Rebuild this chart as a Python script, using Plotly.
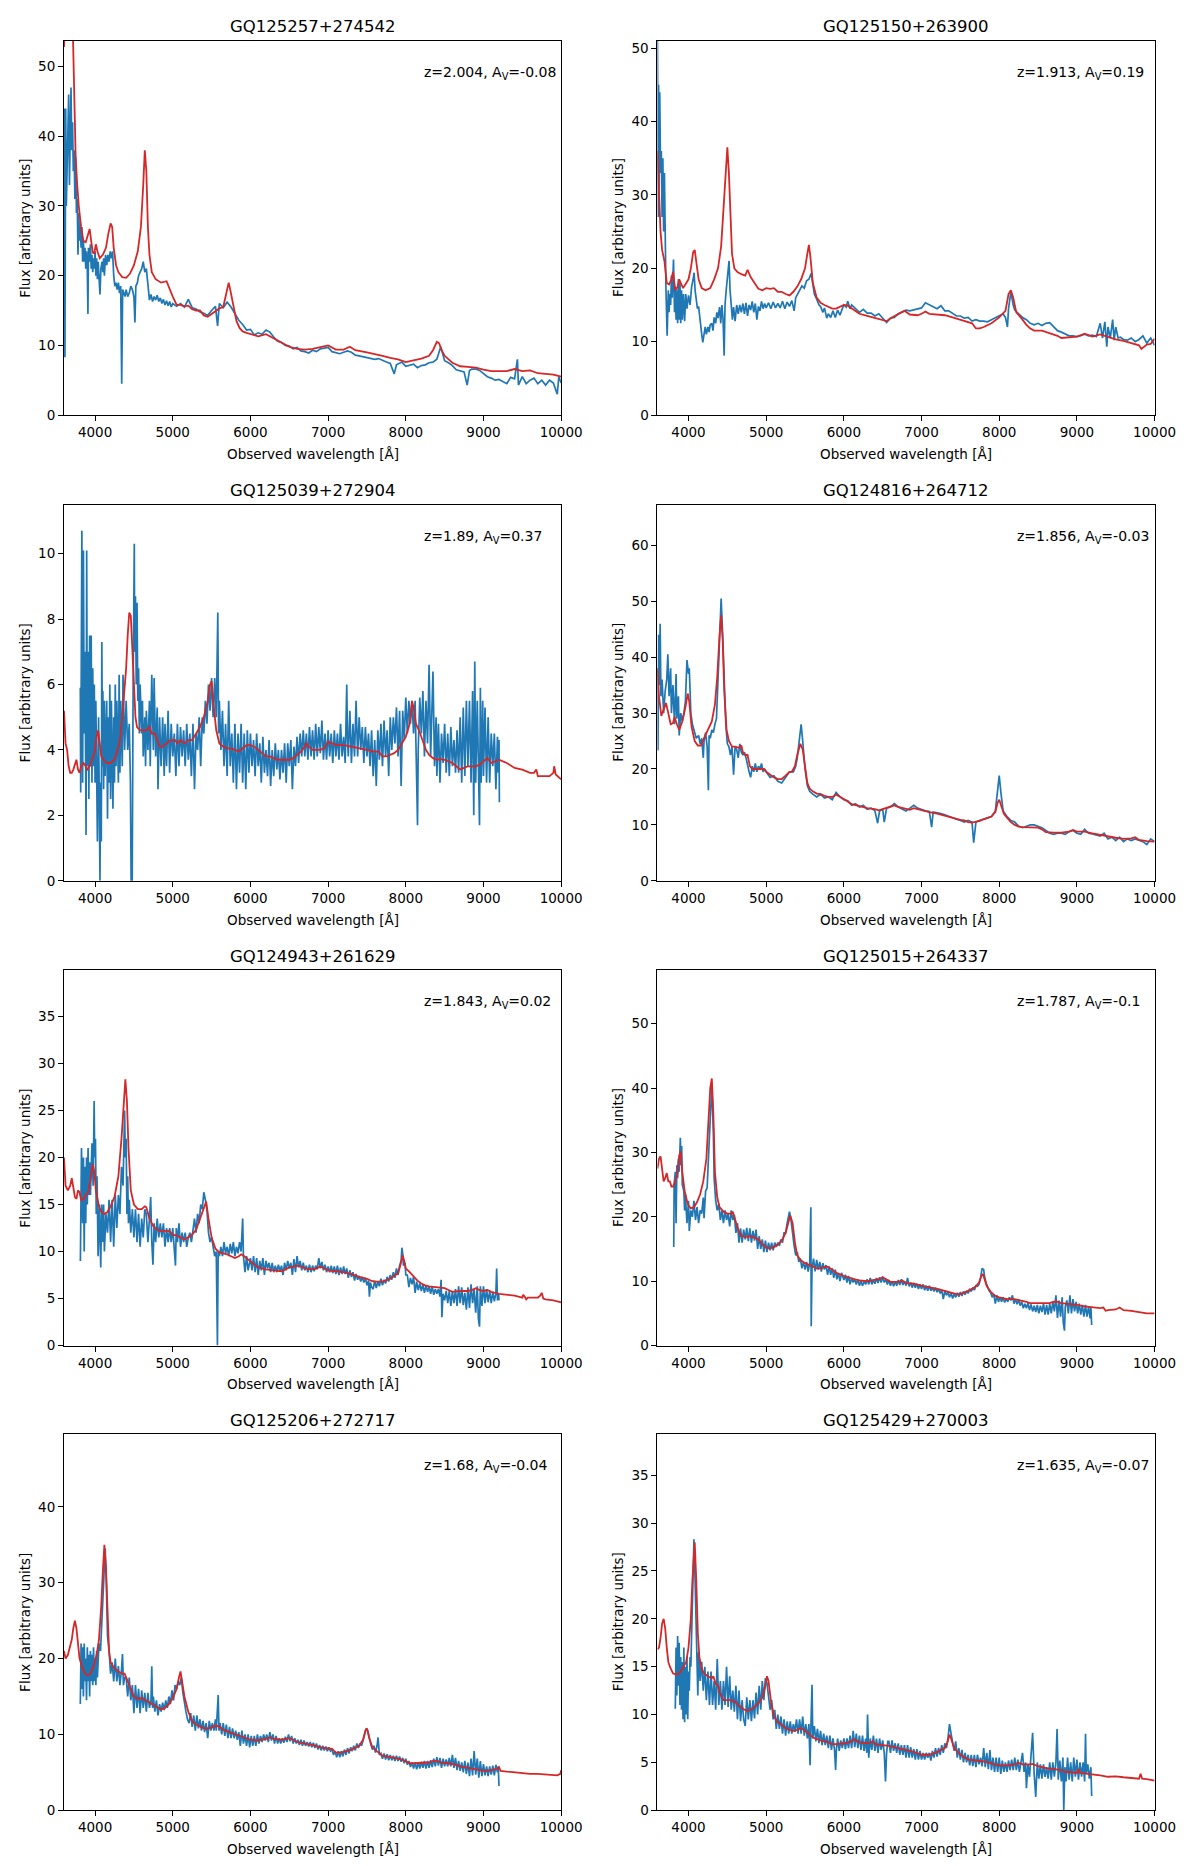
import plotly.graph_objects as go

# ---------------- data ----------------
TITLES = ["GQ125257+274542", "GQ125150+263900", "GQ125039+272904", "GQ124816+264712",
          "GQ124943+261629", "GQ125015+264337", "GQ125206+272717", "GQ125429+270003"]
REDSHIFTS = ["2.004", "1.913", "1.89", "1.856", "1.843", "1.787", "1.68", "1.635"]
AV_VALUES = ["-0.08", "0.19", "0.37", "-0.03", "0.02", "-0.1", "-0.04", "-0.07"]
Y_MAX = [53.7, 51.0, 11.5, 67.3, 39.9, 58.3, 49.6, 39.3]
Y_DTICK = [10, 10, 2, 10, 5, 10, 10, 5]
X_TICKS = [4000, 5000, 6000, 7000, 8000, 9000, 10000]

BLUE_1 = [(3603,40),(3608,44),(3612,8.3),(3616,42),(3622,44),(3630,30),(3640,36),(3650,43),(3660,46),(3670,33),(3680,40),(3690,47),(3700,38),(3710,42),(3720,35),(3730,38),(3740,31),(3750,37),(3760,29),(3770,31),(3780,23),(3790,29),(3800,25),(3810,27),(3820,24),(3830,27),(3840,22),(3850,25),(3860,22),(3870,24),(3880,21),(3890,23.5),(3900,21),(3908,14.5),(3915,24),(3930,22),(3940,24.5),(3950,21),(3960,23),(3970,20.5),(3980,22.5),(3990,21),(4000,23.5),(4010,20),(4020,22.5),(4030,19.5),(4040,22),(4050,20.5),(4063,17.3),(4075,21),(4090,22),(4100,20.5),(4110,22.5),(4120,20),(4135,23),(4150,21.5),(4165,23),(4180,22),(4195,23.5),(4210,22.5),(4225,23.5),(4240,20),(4255,18.5),(4270,19),(4285,18),(4300,19),(4315,17.5),(4330,18.5),(4343,4.5),(4355,18),(4370,17.5),(4385,17),(4400,18),(4420,17),(4440,17.5),(4460,18.5),(4480,18),(4500,17),(4513,13.3),(4525,18.5),(4545,19),(4560,20),(4580,20.5),(4600,21),(4620,22),(4640,20.5),(4660,21),(4680,19),(4700,16.5),(4720,17.3),(4740,16.3),(4760,17),(4780,16.5),(4800,17.2),(4820,16.3),(4840,16.8),(4860,16),(4880,16.6),(4900,15.8),(4920,16.4),(4940,15.7),(4960,16.3),(4980,15.5),(5000,16),(5050,15.6),(5100,16),(5150,15.5),(5200,16.6),(5250,15.4),(5300,15.2),(5350,14.8),(5400,14.6),(5450,14.3),(5500,15),(5550,15.6),(5577,12.8),(5600,16),(5650,15.4),(5700,16.2),(5750,15.5),(5800,14.5),(5850,13.6),(5900,13),(5950,12.2),(6000,12.3),(6050,11.5),(6100,11.8),(6150,11.6),(6200,12.2),(6250,11.9),(6300,11.2),(6350,10.6),(6400,10.4),(6450,10),(6500,9.9),(6550,9.5),(6600,9.7),(6650,9.2),(6700,9.1),(6750,8.9),(6800,9.3),(6850,9.1),(6900,9.5),(6950,9.6),(7000,9.7),(7050,9.1),(7100,9),(7150,8.8),(7200,9),(7250,9.2),(7300,9),(7350,8.6),(7400,8.5),(7450,8.4),(7500,8.3),(7550,8.2),(7600,8),(7650,8.1),(7700,7.8),(7750,7.6),(7800,7.4),(7851,5.9),(7880,7.2),(7920,7.4),(7950,7.6),(8000,7),(8050,7.1),(8100,7.3),(8150,6.8),(8200,7.1),(8250,7.2),(8300,7.5),(8350,7.6),(8400,8),(8450,9.8),(8480,8.6),(8500,7.8),(8550,7.5),(8600,7.1),(8650,6.5),(8700,6.3),(8750,6.2),(8790,4.3),(8820,6.4),(8850,6.6),(8900,6.6),(8950,6.4),(9000,6),(9050,5.5),(9100,5.3),(9150,5),(9200,5.1),(9250,4.8),(9300,4.5),(9350,5.4),(9400,5.2),(9437,8),(9450,4.3),(9500,5.5),(9550,4.5),(9600,5),(9650,5.3),(9700,4.5),(9750,5),(9800,4.3),(9850,5),(9900,4.6),(9950,3),(9970,5.5),(10000,4.6)]
RED_1 = [(3600,52.8),(3620,58),(3660,70),(3700,62),(3715,53),(3730,45),(3750,37),(3770,33),(3790,30),(3820,27),(3850,25),(3880,24.8),(3910,26),(3930,26.7),(3950,25),(3970,23.3),(3990,23.2),(4010,24.5),(4030,23.5),(4060,22.5),(4100,23),(4140,24),(4170,26),(4200,27.5),(4220,27),(4240,24),(4270,21.5),(4300,20.5),(4350,19.8),(4400,19.7),(4450,20.3),(4500,21.5),(4550,23.5),(4590,27),(4620,33),(4640,38),(4660,35),(4680,27),(4700,23),(4730,20.5),(4780,19.5),(4850,19),(4920,19.2),(4960,18),(5000,17),(5050,15.8),(5100,15.8),(5150,15.6),(5200,15.7),(5250,15.2),(5300,15),(5350,15),(5400,14.3),(5450,14.1),(5500,14.5),(5550,15),(5600,15.3),(5650,15.5),(5680,17),(5720,19),(5740,18),(5780,15.5),(5820,13.5),(5860,12.5),(5900,12),(5950,11.8),(6000,11.6),(6100,11.3),(6200,11.6),(6300,11),(6400,10.3),(6500,9.8),(6600,9.5),(6700,9.4),(6800,9.5),(6900,9.8),(7000,10),(7100,9.4),(7200,9.4),(7280,9.8),(7350,9.3),(7500,9),(7600,8.8),(7700,8.5),(7800,8.2),(7900,8),(8000,7.6),(8100,7.8),(8200,8.1),(8300,8.5),(8350,9.3),(8400,10.5),(8430,10.3),(8460,9.3),(8500,8.5),(8600,7.5),(8700,7),(8800,6.9),(8900,6.8),(9000,6.5),(9100,6.3),(9200,6.3),(9300,6.3),(9400,6.6),(9500,6.3),(9600,6.4),(9700,6),(9800,5.9),(9900,5.8),(10000,5.5)]

BLUE_2 = [(3600,52),(3605,40),(3610,27),(3615,45),(3620,30),(3630,44),(3640,33),(3650,36),(3660,27),(3670,35),(3680,25),(3690,33),(3700,22),(3710,17),(3725,10.8),(3740,17),(3750,14),(3760,16.5),(3770,15),(3780,19),(3790,16),(3807,21.2),(3820,14),(3830,17.5),(3840,13),(3850,17),(3860,12.5),(3870,18.5),(3880,13),(3890,18),(3900,12.5),(3910,17),(3920,13),(3935,16.5),(3950,12.8),(3965,16.5),(3980,14.5),(4000,16.3),(4020,15),(4040,17.5),(4060,18.5),(4072,19.4),(4085,17),(4100,15.5),(4115,14.5),(4130,14.8),(4145,13),(4160,12),(4170,11),(4184,9.9),(4200,11.2),(4215,12),(4230,11),(4250,12),(4265,11.3),(4280,12.3),(4300,12.5),(4315,11.5),(4330,13.3),(4350,12.5),(4365,14),(4380,13.2),(4400,14.7),(4415,12.5),(4430,15),(4445,13),(4459,8.1),(4470,15),(4485,17),(4500,19),(4522,21),(4535,17),(4550,14.5),(4565,13),(4580,14.7),(4600,12.8),(4620,15),(4640,13.8),(4660,15),(4680,14),(4700,15.2),(4720,13.8),(4740,15.3),(4760,13.5),(4780,15),(4800,14.3),(4820,15.5),(4840,14),(4860,15.2),(4880,13),(4900,14.8),(4920,14.2),(4940,15.5),(4960,14.5),(4980,15.2),(5000,14.6),(5030,15.3),(5060,14.5),(5090,15.4),(5120,14.6),(5150,15.2),(5180,14.6),(5210,15.5),(5240,14.5),(5270,15.4),(5300,14.8),(5330,15.6),(5360,14.2),(5380,16),(5400,16.5),(5430,17),(5460,17.6),(5490,17.3),(5520,18.3),(5550,18.5),(5580,19.3),(5600,17.5),(5620,16.5),(5650,15.8),(5680,15),(5700,14.8),(5730,14),(5750,14.6),(5780,13.2),(5800,13.8),(5830,13.3),(5860,14.2),(5890,13.3),(5920,14.3),(5950,13.6),(5980,14.5),(6000,15),(6030,14.7),(6050,15.5),(6080,14.5),(6100,15),(6150,14.5),(6200,14),(6250,14.4),(6300,13.9),(6350,13.9),(6400,13.5),(6450,13.8),(6500,13.2),(6550,12.6),(6600,13.2),(6650,13.3),(6700,13.8),(6750,14),(6800,14.3),(6850,14.2),(6900,14.3),(6950,14.5),(7000,14.6),(7050,15.3),(7100,15),(7150,14.7),(7200,14.5),(7250,14.9),(7300,14.2),(7350,14.2),(7400,13.8),(7450,13.5),(7500,13.5),(7550,13.2),(7600,13.3),(7650,12.8),(7700,13),(7750,12.8),(7800,12.8),(7850,12.7),(7900,13),(7950,13.3),(8000,13.5),(8050,13.8),(8080,13.3),(8106,12),(8120,14.5),(8150,16.8),(8180,15),(8200,14.3),(8250,13.8),(8300,13.3),(8350,13),(8400,12.5),(8450,12.3),(8500,12.5),(8550,12.2),(8600,12.5),(8650,12.6),(8700,12),(8750,11.5),(8800,11.3),(8850,11),(8900,10.8),(8950,10.8),(9000,10.7),(9050,10.8),(9100,11),(9150,10.8),(9200,10.9),(9250,10.7),(9300,12.5),(9330,10.5),(9360,12.7),(9385,9.3),(9400,12),(9430,10.5),(9460,13),(9480,10.2),(9500,12),(9530,10.5),(9560,10.6),(9600,10.3),(9650,10.2),(9700,10.5),(9750,10),(9800,10.3),(9850,10.8),(9900,9.8),(9950,10.5),(10000,9.5)]
RED_2 = [(3600,36),(3620,30),(3640,25),(3660,22.5),(3690,21),(3720,18),(3750,17.8),(3780,18.5),(3800,19.5),(3830,17),(3860,17.5),(3880,18.5),(3900,18),(3930,17.3),(3960,17.8),(4000,18.5),(4030,20),(4060,22.2),(4080,22.5),(4100,21),(4130,18.5),(4170,17.3),(4220,17),(4280,17.3),(4330,18.5),(4380,20),(4420,23),(4450,28),(4480,34),(4500,36.5),(4520,33),(4540,27),(4560,22),(4590,20),(4630,19.5),(4680,19.2),(4730,19),(4760,19.8),(4800,18.8),(4850,18),(4900,17.2),(4950,17),(5000,17.3),(5050,17.2),(5100,17.3),(5150,16.8),(5200,16.8),(5250,16.5),(5300,16.3),(5350,16.8),(5400,17.5),(5450,18.5),(5500,20),(5530,22),(5550,23.2),(5570,21.5),(5600,18),(5650,16),(5700,15.3),(5750,15),(5800,14.8),(5850,14.5),(5900,14.5),(5950,14.7),(6000,15),(6050,14.9),(6100,14.5),(6200,13.8),(6300,13.5),(6400,13.2),(6500,13),(6550,12.8),(6600,13.2),(6700,13.8),(6780,14.2),(6850,13.7),(6950,13.6),(7000,13.8),(7050,14.1),(7100,13.8),(7200,13.7),(7300,13.6),(7400,13.3),(7500,13),(7600,12.7),(7650,12.5),(7700,11.8),(7750,11.8),(7800,12),(7900,12.5),(8000,13.3),(8080,14.2),(8120,16.5),(8150,17),(8180,16),(8220,14),(8300,13),(8350,12.3),(8400,11.8),(8450,11.5),(8550,11.5),(8650,11.2),(8750,10.8),(8800,10.5),(8900,10.6),(9000,10.7),(9100,11.1),(9150,10.9),(9200,10.7),(9300,11),(9400,10.6),(9500,10.3),(9600,10.1),(9700,9.8),(9800,9.5),(9830,9),(9900,9.6),(9950,9.7),(10000,10.4)]

BLUE_3 = [(3810,5.9),(3815,2.7),(3830,10.7),(3840,3),(3850,10.1),(3860,4.5),(3870,7),(3884,1.4),(3892,10.1),(3900,3.5),(3910,7),(3920,2.5),(3930,7.5),(3940,3.5),(3950,7.5),(3960,3),(3970,6.5),(3980,3.5),(3990,6),(4000,3),(4010,5.5),(4030,1.2),(4045,5),(4063,0),(4070,3),(4080,1.2),(4087,7.3),(4095,3.5),(4100,5.8),(4110,2.8),(4120,5.5),(4130,3.2),(4150,5.5),(4160,1.9),(4170,5),(4180,3),(4190,6),(4200,2.5),(4210,5.5),(4230,2.2),(4240,5),(4250,3),(4260,6),(4270,3.5),(4280,5.5),(4300,3),(4310,6.3),(4320,3.3),(4330,5.5),(4350,3.5),(4360,6.3),(4380,4),(4400,5.5),(4420,4),(4440,4.8),(4455,3),(4464,0),(4478,0),(4490,6),(4500,9),(4505,10.3),(4510,7),(4520,8.7),(4530,6),(4540,8.5),(4550,5.5),(4560,6.5),(4570,4.5),(4580,6),(4600,4.5),(4610,5.5),(4620,3.8),(4640,5),(4650,3.5),(4660,5.2),(4680,4),(4700,5.5),(4710,3.5),(4730,6.3),(4750,4),(4760,6.2),(4780,3.8),(4800,5.3),(4810,2.8),(4830,5),(4850,3.5),(4870,5),(4890,3.2),(4900,4.8),(4920,3.5),(4940,5.2),(4960,3.3),(4980,4.8),(5000,3.8),(5020,4.5),(5040,3.2),(5060,4.8),(5080,3.5),(5100,4.7),(5120,3.8),(5140,4.6),(5160,3.5),(5180,4.8),(5200,3.7),(5220,4.5),(5240,3.2),(5260,4.8),(5280,2.8),(5300,4.5),(5320,4),(5340,5),(5360,3.5),(5380,5),(5400,4.5),(5420,5.5),(5440,4.8),(5460,6),(5480,5.2),(5500,6.2),(5520,5),(5540,6.2),(5560,5),(5580,8.2),(5590,4.5),(5600,5.5),(5620,4),(5640,5.2),(5660,3.5),(5680,4.8),(5700,3.2),(5720,5.5),(5740,3.5),(5760,4.5),(5780,3),(5800,4.8),(5820,2.8),(5840,4.5),(5860,3.3),(5880,4.8),(5900,3),(5920,4.5),(5940,2.8),(5960,4.6),(5980,3.3),(6000,4.5),(6020,3.5),(6040,4.3),(6060,3.2),(6080,4.5),(6100,3.5),(6120,4.2),(6140,3),(6160,4.4),(6180,3.3),(6200,4),(6220,3.2),(6240,4.3),(6260,2.9),(6280,4),(6300,3.2),(6320,4.2),(6340,3.4),(6360,4),(6380,3.1),(6400,4),(6420,3.3),(6440,4.2),(6460,3),(6480,4.2),(6500,3.5),(6520,4.3),(6540,2.8),(6560,4.1),(6580,3.5),(6600,4.4),(6620,3.6),(6640,4.5),(6660,3.8),(6680,4.6),(6700,3.8),(6720,4.5),(6740,3.7),(6760,4.7),(6780,3.8),(6800,4.6),(6820,3.7),(6840,4.8),(6860,3.8),(6880,4.7),(6900,3.9),(6920,4.9),(6940,3.7),(6960,4.5),(6980,3.7),(7000,4.6),(7020,3.8),(7040,4.5),(7060,3.6),(7080,4.6),(7100,3.8),(7120,4.5),(7140,3.7),(7160,4.8),(7180,3.8),(7200,4.4),(7220,3.6),(7240,6),(7250,4.3),(7260,3.8),(7280,5.2),(7300,3.6),(7320,4.8),(7340,3.8),(7360,5.5),(7380,3.8),(7400,5),(7420,4),(7440,4.7),(7460,3.6),(7480,4.7),(7500,3.8),(7520,4.5),(7540,3.5),(7560,4.6),(7580,3.2),(7600,4.3),(7620,2.9),(7640,4.6),(7660,3.7),(7680,4.8),(7700,3.5),(7720,4.9),(7740,3.8),(7760,4.6),(7780,3.2),(7800,5),(7820,4),(7840,5),(7860,4.2),(7880,5.3),(7900,3.8),(7920,5.2),(7940,2.9),(7960,5.2),(7980,4.3),(8000,5.6),(8020,4.5),(8040,5.5),(8060,4.8),(8080,5.5),(8100,4.5),(8120,5.5),(8140,3.5),(8151,1.7),(8160,4),(8180,5.6),(8200,4.5),(8220,5.8),(8240,3.8),(8260,5.5),(8280,4.2),(8300,6.6),(8320,3.8),(8340,5.2),(8350,6.4),(8370,3.5),(8390,5),(8400,3.2),(8420,4.8),(8440,3),(8460,4.5),(8480,3.6),(8500,4.8),(8520,3.3),(8540,4.5),(8560,3.2),(8580,4.7),(8600,3.5),(8620,4.3),(8640,3.3),(8660,4.6),(8680,3.3),(8700,5),(8720,3),(8740,5.3),(8760,3.2),(8780,5.5),(8800,3.5),(8820,5.5),(8840,3),(8860,5.8),(8875,2),(8888,6.7),(8900,3),(8920,5.5),(8949,1.7),(8960,5.9),(8970,3),(8990,5.5),(9000,3.2),(9020,5.3),(9040,3),(9060,5),(9080,3),(9100,4.5),(9120,3.5),(9140,4.5),(9160,2.8),(9180,4.4),(9190,3.3),(9200,4.3),(9205,2.4)]
RED_3 = [(3600,5.2),(3620,4.2),(3640,4),(3660,3.5),(3680,3.3),(3700,3.3),(3720,3.4),(3740,3.6),(3760,3.7),(3780,3.4),(3800,3.3),(3820,3.5),(3850,3.6),(3880,3.5),(3900,3.4),(3930,3.5),(3960,3.7),(3990,3.9),(4020,4.4),(4040,4.6),(4060,4.2),(4080,3.8),(4110,3.7),(4150,3.6),(4200,3.6),(4250,3.7),(4290,4),(4320,4.3),(4350,5),(4380,5.8),(4400,6.5),(4420,7.5),(4440,8.2),(4460,8.1),(4480,7),(4500,6),(4520,5),(4540,4.7),(4580,4.6),(4620,4.6),(4660,4.6),(4700,4.7),(4730,4.5),(4770,4.5),(4800,4.3),(4830,4.1),(4870,4.1),(4920,4.2),(4970,4.3),(5000,4.3),(5030,4.3),(5060,4.2),(5100,4.3),(5150,4.2),(5200,4.3),(5250,4.3),(5300,4.5),(5350,4.7),(5400,5),(5450,5.5),(5480,6),(5500,6.1),(5520,5.5),(5560,4.6),(5600,4.2),(5650,4.1),(5700,4.05),(5750,4.05),(5800,4.0),(5850,3.95),(5900,4.05),(5950,4.15),(6000,4.15),(6050,4.1),(6100,4.0),(6150,3.9),(6200,3.8),(6250,3.8),(6300,3.75),(6350,3.7),(6400,3.7),(6450,3.7),(6500,3.7),(6550,3.75),(6600,3.85),(6650,3.95),(6700,4.1),(6720,4.2),(6750,4.1),(6800,4.0),(6850,4.0),(6900,4.0),(6950,4.05),(7000,4.25),(7050,4.2),(7100,4.15),(7150,4.15),(7200,4.15),(7300,4.1),(7400,4.05),(7500,4.0),(7600,3.95),(7650,3.95),(7700,3.8),(7750,3.8),(7800,3.85),(7850,3.9),(7900,4.0),(7950,4.2),(8000,4.4),(8050,4.8),(8080,5.5),(8100,5.3),(8130,4.8),(8170,4.6),(8200,4.4),(8230,4.2),(8260,4.0),(8300,3.85),(8350,3.75),(8400,3.7),(8450,3.72),(8500,3.7),(8550,3.65),(8600,3.6),(8650,3.5),(8700,3.4),(8750,3.45),(8800,3.5),(8850,3.5),(8900,3.5),(8950,3.55),(9000,3.65),(9050,3.75),(9100,3.6),(9150,3.65),(9200,3.7),(9250,3.65),(9300,3.6),(9400,3.45),(9500,3.4),(9600,3.3),(9650,3.3),(9680,3.4),(9700,3.2),(9750,3.2),(9800,3.2),(9850,3.2),(9900,3.3),(9910,3.5),(9930,3.25),(9950,3.2),(10000,3.1)]

BLUE_4 = [(3600,38),(3607,23.3),(3615,44),(3625,35),(3635,46),(3645,33),(3660,36),(3680,30),(3700,34),(3720,36),(3734,40.5),(3750,33),(3770,38),(3780,30),(3800,35),(3820,28),(3840,37),(3850,29),(3870,33),(3880,26),(3900,30),(3920,28.5),(3940,30),(3960,32),(3980,39.5),(4000,37),(4010,38),(4030,30),(4050,28),(4080,26.5),(4100,25.5),(4130,26),(4150,24.5),(4170,25.5),(4190,22),(4200,25),(4220,26.5),(4240,24),(4256,16.2),(4265,26),(4280,25.5),(4300,27),(4320,26.5),(4340,28),(4360,29),(4380,36),(4400,44),(4420,50.5),(4440,44),(4460,35),(4480,28),(4500,24.5),(4520,24),(4540,22.5),(4560,24),(4580,19),(4600,24),(4620,23.5),(4640,22),(4660,24.5),(4680,23),(4700,22.5),(4720,23),(4740,22),(4760,20.5),(4780,19.5),(4800,18.5),(4820,20.5),(4840,19.5),(4860,21),(4880,19.5),(4900,20.5),(4920,20),(4940,21),(4960,19.5),(4980,20),(5000,19.5),(5050,18.5),(5100,18.8),(5150,17.8),(5200,17.5),(5250,18.5),(5300,19.5),(5350,19.5),(5380,20.5),(5400,22),(5430,26),(5450,28),(5470,25),(5500,20),(5530,17),(5560,16),(5600,15.5),(5650,15),(5700,15.5),(5750,14.8),(5800,15),(5850,14.5),(5900,15.8),(5950,15),(6000,14.5),(6050,14.3),(6100,13.5),(6150,13.8),(6200,13.2),(6250,13.5),(6300,12.8),(6350,13),(6400,12.5),(6435,10.3),(6460,12.5),(6500,12.8),(6520,10.5),(6550,13),(6600,13.2),(6650,13.8),(6700,13.2),(6750,12.8),(6800,12.5),(6850,13),(6900,13.5),(6950,13),(7000,12.7),(7050,12.5),(7100,12.4),(7130,9.6),(7150,12.3),(7200,12.2),(7250,12),(7300,11.8),(7350,11.5),(7400,11.2),(7450,11),(7500,10.8),(7550,10.5),(7600,10.8),(7650,10.5),(7671,6.8),(7685,8.5),(7700,10.5),(7750,10.8),(7800,11),(7850,11.2),(7900,11.5),(7950,12.5),(7980,16),(8000,18.8),(8020,16),(8050,12.5),(8100,11.5),(8150,10.8),(8200,10.5),(8250,9.8),(8300,9.5),(8350,9.7),(8400,10),(8450,10),(8500,9.8),(8550,9.5),(8600,9),(8650,8.5),(8700,8.3),(8750,8.5),(8800,8.5),(8850,8.3),(8900,8.8),(8950,9),(9000,8.5),(9050,8.3),(9100,9.2),(9150,8.5),(9200,8.4),(9250,8.2),(9300,8),(9350,8.5),(9400,7.5),(9450,7.8),(9500,7.2),(9550,7.8),(9600,7),(9650,7.5),(9700,7.2),(9750,7.5),(9800,7.3),(9850,7),(9900,6.5),(9950,7.5),(10000,7)]
RED_4 = [(3600,38),(3620,33),(3650,29.5),(3680,30.5),(3710,31.8),(3740,30),(3770,28),(3800,28.2),(3820,29.3),(3850,28),(3880,27),(3920,28.5),(3960,31),(3990,33.5),(4010,32),(4040,27.5),(4080,25),(4120,24.2),(4160,24.2),(4200,25.5),(4250,27),(4300,28.5),(4340,31.5),(4370,36.5),(4400,44),(4420,47.5),(4440,43),(4460,34),(4490,27),(4520,25),(4560,24),(4600,24),(4650,23.8),(4680,24.2),(4700,23),(4730,22.5),(4760,22.5),(4790,20.5),(4820,20),(4870,20),(4920,20.1),(4970,20),(5000,19.5),(5050,19),(5100,18.5),(5150,18.2),(5200,18.2),(5250,18.8),(5300,19.5),(5330,19.5),(5370,20.5),(5400,22.5),(5440,24.5),(5470,23.5),(5500,20),(5530,17.5),(5560,16.5),(5600,16),(5650,15.6),(5700,15.5),(5750,15.2),(5800,15),(5850,15),(5900,15.4),(5930,15.2),(6000,14.7),(6050,14.2),(6100,13.7),(6200,13.3),(6300,13),(6400,12.8),(6450,12.6),(6500,12.8),(6550,13),(6600,13.3),(6650,13.5),(6700,13.2),(6750,13),(6800,12.8),(6850,12.7),(6900,13),(6950,12.8),(7000,12.6),(7100,12.3),(7200,12),(7300,11.6),(7400,11.2),(7500,10.9),(7550,10.8),(7600,10.5),(7650,10.4),(7700,10.5),(7750,10.7),(7800,11),(7850,11.2),(7900,11.5),(7950,12.3),(7980,14),(8000,14.5),(8030,13),(8060,12),(8100,11.3),(8150,10.5),(8200,10),(8250,9.7),(8300,9.6),(8400,9.6),(8500,9.5),(8550,9.2),(8600,8.7),(8700,8.6),(8800,8.6),(8900,8.8),(8950,9.1),(9000,8.8),(9100,8.8),(9200,8.5),(9300,8.2),(9400,8),(9500,7.7),(9600,7.5),(9700,7.6),(9750,7.8),(9800,7.3),(9900,7.1),(10000,7)]

BLUE_5 = [(3811,9),(3825,21),(3840,13),(3850,20),(3860,10),(3870,19),(3880,13),(3890,20),(3900,15),(3910,21),(3920,16),(3930,19.5),(3940,16),(3960,21.5),(3975,17),(3988,26),(3995,20),(4005,22),(4015,14),(4025,18),(4039,9.5),(4055,15),(4073,8.3),(4085,15),(4100,11),(4110,15),(4120,10),(4140,14),(4160,12),(4180,15.5),(4200,11),(4220,15.5),(4240,10.5),(4260,16),(4280,12.5),(4300,16),(4320,14),(4340,19),(4360,17),(4380,25),(4390,20),(4400,22),(4410,14),(4420,18),(4430,13),(4440,15.5),(4460,12),(4480,14.5),(4500,11.5),(4520,14.5),(4540,11),(4560,14),(4580,10.5),(4600,13.5),(4620,11.5),(4640,14.5),(4660,14),(4680,11),(4700,13.5),(4716,15.8),(4730,11),(4745,8.6),(4760,13),(4780,11),(4800,13.5),(4820,11.5),(4840,13),(4860,11.5),(4880,13),(4900,10.5),(4920,12.5),(4940,11),(4960,12.5),(4980,11),(5000,12.5),(5020,10.5),(5035,8.5),(5045,12.5),(5060,11),(5080,13),(5100,10.5),(5120,12),(5140,11),(5160,12),(5180,10.5),(5200,11.5),(5220,12),(5240,11),(5260,12.5),(5280,13.5),(5300,12),(5320,14),(5340,13),(5360,15),(5380,14.5),(5400,16.3),(5420,15.5),(5440,14.5),(5460,12),(5480,11),(5500,11.5),(5520,10.5),(5540,9.5),(5560,10),(5575,0),(5585,10),(5600,9.5),(5620,10.5),(5640,9.5),(5660,11),(5680,9.8),(5700,10.5),(5720,9.5),(5740,10.8),(5760,9.8),(5780,11),(5800,9.5),(5820,10.5),(5840,9.8),(5860,11),(5880,10),(5900,13.5),(5910,9.5),(5930,7.8),(5950,9.5),(5970,8),(6000,9.3),(6020,8),(6040,9.5),(6060,7.8),(6080,9.3),(6100,7.5),(6120,9),(6140,8),(6160,9.3),(6180,7.5),(6200,9),(6220,8.2),(6240,8.8),(6260,7.8),(6280,8.8),(6300,7.8),(6320,8.5),(6340,7.8),(6360,8.6),(6380,7.9),(6400,8.5),(6420,7.5),(6440,8.8),(6460,8),(6480,9),(6500,8.2),(6520,8.8),(6540,7.5),(6560,9.2),(6580,7.8),(6600,9.5),(6620,8.3),(6640,9),(6660,8),(6680,8.8),(6700,8),(6720,8.5),(6740,7.8),(6760,8.6),(6780,7.8),(6800,8.5),(6820,7.9),(6840,8.5),(6860,8.1),(6880,9.3),(6900,8.2),(6920,8.9),(6940,8),(6960,8.6),(6980,7.8),(7000,8.4),(7020,7.8),(7040,8.5),(7060,7.7),(7080,8.4),(7100,7.6),(7120,8.5),(7140,7.5),(7160,8.3),(7180,7.6),(7200,8.4),(7220,7.6),(7240,8.2),(7260,7.2),(7280,8),(7300,7.3),(7320,7.8),(7340,6.9),(7360,7.6),(7380,7),(7400,7.4),(7420,6.8),(7440,7.3),(7460,6.7),(7480,7.2),(7500,6.4),(7520,6.9),(7532,5.2),(7545,6.7),(7560,6.2),(7580,6),(7600,6.9),(7620,6.1),(7640,6.8),(7660,6.3),(7680,7.1),(7700,6.4),(7720,7),(7740,6.6),(7760,7.3),(7780,6.8),(7800,7.5),(7820,7),(7840,7.8),(7860,7.2),(7880,8.2),(7900,7.5),(7920,8.5),(7940,9),(7950,10.4),(7960,9.8),(7970,8.5),(7990,8.8),(8000,7.5),(8020,7.5),(8040,6.2),(8060,7.2),(8080,6.5),(8100,7.3),(8120,5.6),(8140,6.8),(8160,5.9),(8180,6.6),(8200,5.8),(8220,6.5),(8240,5.6),(8260,6.4),(8280,5.7),(8300,6.3),(8320,5.5),(8340,6.3),(8360,5.4),(8380,6),(8400,5.5),(8420,6),(8440,5.2),(8455,7),(8465,3),(8480,5.5),(8500,4.8),(8520,5.8),(8540,4.5),(8560,5.8),(8580,4.2),(8600,5.8),(8620,4.5),(8640,6),(8660,4.2),(8680,6.3),(8700,4.5),(8720,6.2),(8740,4.3),(8760,5.6),(8780,3.8),(8800,6.2),(8820,4),(8840,6.5),(8860,4.5),(8880,6),(8900,3.5),(8920,6.3),(8935,2.8),(8949,2),(8960,6.3),(8980,4.2),(9000,6.3),(9020,4.5),(9040,6),(9060,4.6),(9080,5.8),(9100,4.5),(9120,5.7),(9140,4.7),(9160,5.6),(9170,8.2),(9180,4.8),(9195,5.5),(9200,4.8)]
RED_5 = [(3600,20),(3620,17),(3650,16.5),(3680,17),(3700,17.8),(3720,16.5),(3740,15.8),(3760,15.6),(3780,16.5),(3800,16.3),(3820,15.5),(3850,15.5),(3880,16),(3910,16.3),(3940,17.5),(3970,19.3),(3990,18.5),(4010,16.5),(4050,14.8),(4080,14.2),(4120,14),(4160,14.2),(4200,14.8),(4250,15.8),(4300,18),(4340,22),(4370,26),(4390,28.3),(4410,26),(4430,21),(4460,16.5),(4500,15),(4550,14.5),(4600,14.5),(4640,14.8),(4660,14.7),(4700,13.5),(4750,12.7),(4800,12.3),(4850,12.2),(4900,12.2),(4950,12.2),(5000,11.8),(5050,11.7),(5100,11.5),(5150,11.3),(5200,11.5),(5250,11.8),(5300,12.3),(5350,13.5),(5400,14.8),(5430,15.3),(5460,13.5),(5500,11.5),(5550,10.3),(5600,9.9),(5650,9.8),(5700,9.7),(5750,9.5),(5800,9.3),(5850,9.5),(5880,9.7),(5920,9.5),(5960,9.2),(6000,8.9),(6050,8.6),(6100,8.3),(6150,8.2),(6200,8.1),(6300,8),(6400,7.9),(6450,8.1),(6500,8.3),(6550,8.4),(6600,8.5),(6650,8.4),(6700,8.2),(6800,8.1),(6850,8.2),(6900,8.4),(6950,8.2),(7000,8),(7100,7.9),(7200,7.8),(7300,7.6),(7400,7.3),(7500,7.1),(7550,6.9),(7600,6.8),(7700,6.8),(7800,7.1),(7850,7.4),(7900,7.7),(7930,8.5),(7960,9.6),(7980,9),(8000,8.2),(8050,7.8),(8100,7.3),(8150,6.9),(8200,6.6),(8250,6.4),(8300,6.3),(8400,6.2),(8450,6.2),(8500,6.1),(8550,5.9),(8600,5.7),(8700,5.8),(8800,5.8),(8850,5.9),(8900,6.1),(8950,5.9),(9000,5.8),(9050,5.9),(9100,5.7),(9200,5.5),(9300,5.4),(9400,5.3),(9500,5.1),(9510,5.4),(9530,5.2),(9550,4.9),(9570,5.1),(9600,5.1),(9650,5.1),(9700,5.1),(9730,5.3),(9750,5.6),(9770,5.0),(9800,4.9),(9900,4.8),(10000,4.6)]

BLUE_6 = [(3810,15.3),(3815,25),(3830,27),(3840,19),(3850,28),(3860,26),(3870,29),(3880,27),(3895,32.3),(3905,28),(3912,31),(3920,25),(3940,24),(3950,21),(3960,23.5),(3980,19),(4000,22.5),(4010,17.8),(4030,21),(4050,20),(4070,22.5),(4090,19.5),(4110,21.5),(4130,19),(4150,21),(4170,20.5),(4190,23),(4200,19.8),(4220,24),(4240,24.5),(4260,30),(4280,35),(4300,40.5),(4320,33),(4330,26),(4350,22.5),(4370,21),(4390,22),(4410,19.5),(4430,21),(4450,19),(4470,21),(4490,19.5),(4510,20.5),(4530,18.5),(4550,21),(4570,19.5),(4590,20.3),(4610,17.5),(4630,19),(4650,16),(4670,18.2),(4690,16),(4710,18),(4730,16.5),(4750,18.3),(4770,16.2),(4790,18.2),(4810,16),(4830,17.8),(4850,16.3),(4870,18),(4890,15),(4910,17),(4930,15),(4950,16.5),(4970,14.5),(4990,16.3),(5010,14.5),(5030,16),(5050,14.8),(5070,16),(5090,14.8),(5110,16),(5130,15.3),(5150,16),(5170,15.5),(5190,16.5),(5210,16),(5230,17.5),(5250,17.5),(5270,19),(5300,20.8),(5320,19.5),(5340,17),(5360,15.5),(5380,14),(5400,14.5),(5420,13),(5440,13.5),(5460,12),(5480,13),(5500,11.8),(5520,13),(5540,11.5),(5560,12.8),(5575,21.5),(5580,3),(5590,12),(5610,13.5),(5630,11.5),(5650,13.3),(5670,11.8),(5690,13),(5710,11.5),(5730,12.8),(5750,11.8),(5770,12.5),(5790,11),(5810,12.3),(5830,11),(5850,12),(5870,10.5),(5890,11.8),(5910,10.3),(5930,11.3),(5950,10),(5970,11.3),(6000,10.2),(6020,11),(6040,9.8),(6060,10.8),(6080,9.5),(6100,10.5),(6120,9.8),(6140,10.3),(6160,9.5),(6180,10.3),(6200,9.3),(6220,10),(6240,9.3),(6260,10),(6280,9.5),(6300,10.3),(6320,9.5),(6340,10.5),(6360,9.5),(6380,10.2),(6400,9.6),(6420,10.5),(6440,9.7),(6460,10.6),(6480,9.8),(6500,10.7),(6520,9.8),(6540,10.3),(6560,9.5),(6580,10.2),(6600,9.3),(6620,10),(6640,9.2),(6660,10),(6680,9.3),(6700,10.2),(6720,9.4),(6740,10.3),(6760,9.4),(6780,10),(6800,9.3),(6820,10.5),(6840,9.2),(6860,9.8),(6880,9),(6900,9.7),(6920,9),(6940,9.6),(6960,8.8),(6980,9.5),(7000,8.8),(7020,9.5),(7040,8.6),(7060,9.3),(7080,8.5),(7100,9.3),(7120,8.5),(7140,9),(7160,8.4),(7180,9),(7200,8.3),(7220,8.8),(7240,8.1),(7260,8.6),(7280,7.2),(7300,8.5),(7320,7.8),(7340,8.3),(7360,7.5),(7380,8.2),(7400,7.3),(7420,8),(7440,7.5),(7460,8.2),(7480,7.6),(7500,8.3),(7520,7.7),(7540,8.4),(7560,7.9),(7580,8.5),(7600,8.1),(7620,8.8),(7640,8.4),(7660,9),(7680,8.6),(7700,9.3),(7720,9.2),(7740,9.5),(7760,10.5),(7780,12),(7800,11.8),(7810,10.8),(7830,9.8),(7850,9),(7870,8.5),(7890,8.2),(7910,7.5),(7930,8),(7950,6.5),(7970,7.8),(7990,6.8),(8010,7.5),(8030,6.8),(8050,7.5),(8070,6.7),(8090,7.3),(8110,6.8),(8130,7.5),(8150,7),(8170,7.8),(8190,6.5),(8210,7.2),(8230,6.4),(8250,7.1),(8270,6.2),(8290,6.8),(8310,5.8),(8330,6.5),(8350,5.8),(8370,6.6),(8390,5.5),(8410,6.4),(8430,5.3),(8450,6.2),(8470,5.2),(8490,6.3),(8510,5),(8530,6.2),(8550,5.2),(8570,6.5),(8590,4.8),(8610,6.3),(8630,4.8),(8650,6.5),(8670,5),(8690,6.8),(8710,5.3),(8730,7.8),(8750,4.3),(8770,7),(8790,4.5),(8810,7.5),(8825,3.5),(8840,2.3),(8850,6),(8870,7),(8890,5),(8910,7.8),(8930,5),(8950,7.2),(8970,5.3),(8990,6.8),(9010,5),(9030,6.5),(9050,4.8),(9070,6.3),(9090,4.5),(9110,6.3),(9130,4.5),(9150,6),(9170,4.2),(9180,6),(9190,3.2)]
RED_6 = [(3600,27.5),(3620,29),(3640,29.4),(3660,27),(3680,25.5),(3700,26),(3720,26.8),(3740,25.5),(3760,25.5),(3780,24.7),(3800,24.7),(3830,25.5),(3860,27),(3880,29.5),(3900,30.2),(3920,27),(3950,24),(3990,22),(4030,21.3),(4070,21.5),(4110,22.3),(4150,23.5),(4190,25.5),(4230,29),(4260,35),(4280,40),(4300,41.5),(4320,36),(4340,27),(4370,23),(4400,21.5),(4450,20.8),(4500,20.5),(4550,20.5),(4570,20.8),(4600,19.5),(4640,18),(4680,17),(4750,16.9),(4800,17),(4850,16.7),(4900,16.5),(4950,15.8),(5000,15.2),(5050,15.1),(5100,15.3),(5150,15.7),(5200,16.3),(5250,17.5),(5280,19),(5310,20.2),(5340,19),(5370,16),(5400,14),(5450,13.2),(5500,12.8),(5550,12.5),(5600,12.3),(5650,12),(5700,12),(5750,12.2),(5780,12.3),(5850,11.8),(5900,11.3),(6000,10.8),(6100,10.5),(6200,10.1),(6300,10),(6400,10.2),(6450,10.3),(6500,10.6),(6550,10.2),(6600,9.9),(6700,9.9),(6750,10.1),(6800,9.7),(6900,9.6),(7000,9.3),(7100,9.1),(7200,8.8),(7300,8.5),(7400,8.1),(7450,8),(7500,8),(7550,8.2),(7600,8.5),(7650,8.8),(7700,9.2),(7740,9.8),(7770,10.8),(7790,11.1),(7810,10.4),(7840,9.2),(7900,8.2),(7950,7.7),(8000,7.5),(8050,7.3),(8100,7.2),(8200,7.2),(8300,7),(8350,6.8),(8400,6.6),(8500,6.6),(8600,6.5),(8650,6.6),(8700,6.8),(8750,6.8),(8800,6.6),(8900,6.5),(9000,6.3),(9100,6.1),(9200,5.9),(9300,5.8),(9340,5.9),(9370,5.4),(9400,5.5),(9500,5.6),(9550,5.9),(9600,5.5),(9700,5.4),(9800,5.2),(9900,5),(10000,5)]

BLUE_7 = [(3810,14),(3820,22),(3830,16),(3840,21.5),(3850,15),(3860,22),(3870,17),(3880,20),(3890,14.5),(3900,21.5),(3910,17),(3920,20.5),(3930,15),(3940,21),(3950,17),(3960,20.5),(3970,16.5),(3980,21.5),(3990,17),(4000,20),(4010,16.5),(4020,21),(4030,17.5),(4050,22),(4070,21),(4090,25),(4110,30),(4130,34.5),(4145,30),(4160,23),(4180,21),(4200,18),(4220,19.5),(4240,17),(4260,20),(4280,17),(4300,19),(4320,16.5),(4340,18.5),(4353,20.6),(4365,16.5),(4380,17.5),(4400,17.5),(4420,15),(4440,17.5),(4460,14.5),(4480,16.5),(4500,12.8),(4520,16.5),(4540,13.5),(4560,16),(4580,12.8),(4600,15.8),(4620,13.5),(4640,15.5),(4660,13),(4680,15.5),(4700,13.5),(4720,14.5),(4730,19),(4740,13.5),(4750,15),(4770,13),(4790,14.5),(4810,12.5),(4830,14),(4850,13),(4870,14.2),(4890,13.2),(4910,14.5),(4930,13.5),(4950,15),(4970,14),(4990,15.8),(5010,14.5),(5030,16.5),(5050,16),(5070,17),(5090,16.5),(5110,17.5),(5130,15.5),(5150,14),(5170,13),(5190,12),(5210,11.5),(5230,12.8),(5250,11),(5270,12.5),(5290,10.5),(5310,12.5),(5330,10.8),(5350,12),(5370,10.5),(5390,11.8),(5410,10.3),(5430,11.5),(5450,9.5),(5470,11.8),(5490,10.5),(5510,11.5),(5530,10.5),(5550,12),(5560,10.5),(5585,15.2),(5595,10.5),(5610,11.5),(5630,10),(5650,11.5),(5670,9.8),(5690,11.3),(5710,9.5),(5730,11),(5750,9.5),(5770,10.8),(5790,9.5),(5810,10.5),(5830,9.3),(5850,10.3),(5870,8.5),(5890,10.5),(5910,8.8),(5930,10),(5950,8.5),(5970,10),(5990,8.3),(6010,9.8),(6030,8.5),(6050,9.8),(6070,8.5),(6090,10),(6110,8.8),(6130,9.8),(6150,9),(6170,10),(6190,9.2),(6210,10),(6230,9),(6250,10.3),(6270,9.2),(6290,10),(6310,8.8),(6330,9.8),(6350,8.8),(6370,9.5),(6390,8.8),(6410,9.5),(6430,8.9),(6450,9.7),(6470,9),(6490,10),(6510,9.1),(6530,9.8),(6550,8.8),(6570,9.5),(6590,8.8),(6610,9.3),(6630,8.6),(6650,9.3),(6670,8.5),(6690,9.2),(6710,8.5),(6730,9),(6750,8.4),(6770,9),(6790,8.3),(6810,8.9),(6830,8.2),(6850,8.8),(6870,8),(6890,8.6),(6910,7.9),(6930,8.5),(6950,7.9),(6970,8.4),(6990,7.8),(7010,8.3),(7030,7.8),(7050,8),(7070,7.3),(7090,7.8),(7110,7),(7130,7.8),(7150,7),(7170,7.8),(7190,7.1),(7210,8),(7230,7.3),(7250,8.2),(7270,7.5),(7290,8.3),(7310,7.8),(7330,8.5),(7350,7.9),(7370,8.8),(7390,8.2),(7410,8.8),(7430,8.5),(7450,9.2),(7470,10),(7490,10.8),(7510,10.5),(7530,9.5),(7550,8.7),(7570,8),(7590,8.5),(7610,7.6),(7630,8.5),(7643,9.6),(7660,7.3),(7680,7.5),(7700,6.8),(7720,7.5),(7740,6.7),(7760,7.4),(7780,6.6),(7800,7.3),(7820,6.6),(7840,7.2),(7860,6.5),(7880,7.2),(7900,6.5),(7920,7.1),(7940,6.4),(7960,6.9),(7980,6.2),(8000,6.8),(8020,6),(8040,6.5),(8060,5.7),(8080,6.3),(8100,5.5),(8120,6.3),(8140,5.4),(8160,6.3),(8180,5.5),(8200,6.4),(8220,5.6),(8240,6.5),(8260,5.5),(8280,6.5),(8300,5.6),(8320,6.6),(8340,5.7),(8360,6.8),(8380,5.8),(8400,7),(8420,5.9),(8440,6.9),(8460,5.6),(8480,6.8),(8500,5.8),(8520,6.7),(8540,5.8),(8560,6.9),(8580,5.8),(8600,7.3),(8620,5.6),(8640,6.9),(8660,5.3),(8680,6.5),(8700,5.2),(8720,6.3),(8740,5),(8760,6.5),(8780,4.8),(8800,6.3),(8820,4.5),(8840,6.8),(8860,4.6),(8880,7.8),(8900,4.7),(8920,6.8),(8940,4.3),(8960,6.5),(8980,4.5),(9000,6.1),(9020,4.6),(9040,5.8),(9060,4.5),(9080,5.8),(9100,4.7),(9120,5.9),(9140,4.6),(9160,6),(9180,5),(9190,5.8),(9200,3.2)]
RED_7 = [(3600,21),(3620,20),(3650,20.5),(3680,21.5),(3700,22.5),(3720,24),(3740,25),(3760,24),(3780,21.5),(3800,20),(3830,19),(3860,18.2),(3900,17.8),(3940,18),(3980,19),(4020,20.5),(4050,22.5),(4080,27),(4100,31.5),(4120,35),(4140,32),(4160,25),(4180,21),(4200,19.5),(4250,18.7),(4300,18.3),(4350,18),(4380,18),(4420,17),(4450,16),(4500,15),(4550,14.7),(4600,14.8),(4650,14.5),(4700,14.2),(4750,13.9),(4800,13.5),(4850,13.3),(4900,13.5),(4950,14),(5000,14.8),(5050,16),(5080,17.5),(5100,18.3),(5120,17),(5150,15),(5200,13),(5250,11.7),(5300,11.3),(5350,11),(5400,10.8),(5450,10.8),(5500,10.9),(5550,11.2),(5600,11),(5650,10.6),(5700,10.4),(5800,10),(5900,9.6),(6000,9.3),(6100,9.2),(6200,9.4),(6250,9.6),(6300,9.4),(6400,9.3),(6500,9.5),(6550,9.3),(6600,9),(6700,8.8),(6800,8.6),(6900,8.3),(7000,8.2),(7050,8.1),(7100,7.6),(7150,7.6),(7200,7.7),(7300,8),(7400,8.5),(7450,9.3),(7480,10.5),(7500,10.8),(7530,9.5),(7570,8.3),(7650,7.6),(7700,7.2),(7800,7),(7900,6.8),(8000,6.5),(8050,6.2),(8100,6.2),(8200,6.2),(8300,6.3),(8350,6.5),(8400,6.5),(8450,6.3),(8500,6.2),(8600,6.1),(8700,5.8),(8800,5.6),(8900,5.4),(8950,5.2),(9000,5.2),(9100,5.3),(9180,5.5),(9200,5.7),(9220,5.2),(9300,5.1),(9400,5.0),(9500,4.9),(9600,4.8),(9700,4.8),(9800,4.7),(9900,4.6),(9950,4.6),(9990,4.8),(10000,5.3)]

BLUE_8 = [(3830,10.6),(3840,17),(3850,12),(3860,18.2),(3870,13),(3880,17.5),(3890,11),(3900,16),(3910,10.5),(3920,15.5),(3930,9.5),(3940,17),(3950,9.2),(3960,15),(3970,10),(3980,16),(3990,9.5),(4000,14.5),(4010,12.5),(4020,16),(4030,15),(4040,18),(4055,24),(4070,28.3),(4085,24),(4100,18),(4110,15.5),(4120,12),(4130,16.5),(4150,13.5),(4170,15.5),(4190,12.5),(4210,15),(4230,11.5),(4250,14.5),(4270,11),(4290,14.5),(4310,11),(4330,13.5),(4350,10.5),(4370,15.8),(4390,11),(4410,13.5),(4430,10.5),(4450,13.5),(4470,11),(4490,15),(4510,10.8),(4530,14),(4550,10.5),(4570,12.5),(4590,10.3),(4610,13),(4630,9.5),(4650,12.5),(4670,9.3),(4690,11.5),(4710,9.5),(4730,8.8),(4750,11.8),(4770,9.5),(4790,11.5),(4810,9.3),(4830,11.5),(4850,9.6),(4870,12.3),(4890,10),(4910,13),(4930,10.5),(4950,13.5),(4970,11.5),(4990,13.8),(5010,13.3),(5030,12),(5050,10.5),(5070,11.5),(5090,9.5),(5110,10.5),(5130,8.5),(5150,10),(5170,8.5),(5190,9.8),(5210,8),(5230,9.5),(5250,7.8),(5270,9.3),(5290,8),(5310,9.3),(5330,8),(5350,9),(5370,8.2),(5390,9.5),(5410,8),(5430,9.5),(5450,8),(5470,9.8),(5490,7.8),(5510,9),(5530,7.5),(5550,9),(5565,4.7),(5575,8.5),(5590,13.1),(5600,7.5),(5620,8.8),(5640,7.2),(5660,8.5),(5680,7),(5700,8.3),(5720,6.8),(5740,8),(5760,6.8),(5780,7.8),(5800,6.5),(5820,7.8),(5840,6.3),(5860,7.5),(5880,6.3),(5894,4.2),(5905,6.5),(5920,7.5),(5940,6.2),(5960,7.3),(5980,6.5),(6000,7.5),(6020,6.4),(6040,7.5),(6060,6.5),(6080,7.8),(6100,6.5),(6120,8.3),(6140,6.6),(6160,8),(6180,6.5),(6200,7.8),(6220,6.3),(6240,7.8),(6260,6.2),(6280,7.5),(6295,6),(6305,10),(6320,5.5),(6340,7.5),(6360,6.3),(6380,7.8),(6400,6.2),(6420,7.5),(6440,6),(6460,7.5),(6480,6.3),(6500,7.3),(6520,6),(6536,3),(6550,6),(6565,7.2),(6580,7.2),(6600,6),(6620,7.3),(6640,6.2),(6660,7),(6680,6),(6700,7),(6720,5.8),(6740,6.8),(6760,5.8),(6780,6.8),(6800,5.5),(6820,6.8),(6840,5.5),(6860,6.6),(6880,5.5),(6900,6.4),(6920,5.3),(6940,6.4),(6960,5.3),(6980,6.2),(7000,5.3),(7020,6),(7040,5.3),(7060,6),(7080,5.5),(7100,6),(7120,5.2),(7140,6.2),(7160,5.5),(7180,6.5),(7200,5.6),(7220,6.5),(7240,5.8),(7260,6.8),(7280,6),(7300,7),(7320,6.5),(7340,7.5),(7360,9),(7380,8),(7400,7),(7420,6.2),(7440,7.2),(7460,5.5),(7480,6.5),(7500,5.3),(7520,6.3),(7540,5),(7560,6),(7580,5),(7600,5.8),(7620,4.7),(7640,5.8),(7660,4.6),(7680,5.8),(7700,4.5),(7720,5.8),(7740,4.8),(7760,5.5),(7780,4.6),(7800,6.5),(7820,4.5),(7840,6),(7860,4.3),(7880,6.3),(7900,4.2),(7920,5.5),(7940,4),(7960,5.5),(7980,4),(8000,5.5),(8020,3.8),(8040,5.2),(8060,4),(8080,5),(8100,4),(8120,5.2),(8140,4.2),(8160,5.3),(8180,4.2),(8200,5.5),(8220,4.2),(8240,5.3),(8260,4),(8280,5),(8300,6),(8320,4),(8340,5),(8350,2.3),(8370,4.8),(8390,3.5),(8410,5.5),(8430,8.1),(8450,3.8),(8470,1.4),(8490,5),(8510,3.3),(8530,4.8),(8550,3.3),(8570,4.8),(8590,3.5),(8610,4.5),(8630,3.3),(8650,5),(8670,3.2),(8690,5),(8710,3.5),(8730,5),(8745,8.5),(8760,3.2),(8780,5.2),(8800,3),(8820,5.5),(8831,0),(8845,4.5),(8860,3),(8880,5.5),(8900,3.2),(8920,5),(8940,3),(8960,5.5),(8980,3.5),(9000,5.3),(9020,3.2),(9040,5),(9060,3.5),(9080,5),(9100,3),(9111,8),(9120,3.8),(9140,4.8),(9160,3.3),(9180,4.5),(9190,1.5)]
RED_8 = [(3600,16.8),(3620,17),(3640,18),(3660,19.5),(3680,20),(3700,19),(3720,17),(3740,15.5),(3760,15),(3780,14.7),(3800,14.3),(3830,14.2),(3860,14.2),(3900,14.5),(3940,15),(3970,15.5),(4000,17),(4030,20),(4050,24),(4070,27.5),(4080,28),(4100,24),(4120,18.5),(4140,16),(4170,14.8),(4200,14.3),(4250,14),(4300,13.8),(4320,14),(4350,13.2),(4380,13),(4400,12.3),(4450,11.5),(4500,11.5),(4550,11.5),(4600,11.3),(4650,11),(4700,10.6),(4750,10.4),(4800,10.5),(4850,10.8),(4900,11.2),(4950,11.8),(4990,13),(5010,14),(5030,13.5),(5060,11.5),(5100,9.8),(5150,9.2),(5200,8.9),(5250,8.6),(5300,8.4),(5350,8.3),(5400,8.4),(5450,8.6),(5500,8.3),(5550,8),(5600,7.6),(5700,7.3),(5800,7.1),(5850,6.9),(5900,6.9),(6000,7),(6100,7.2),(6130,7.4),(6200,7.1),(6300,7),(6380,7.2),(6400,6.9),(6500,6.8),(6600,6.7),(6700,6.5),(6800,6.3),(6900,6.1),(7000,5.8),(7100,5.8),(7200,6.1),(7300,6.5),(7330,7),(7360,7.9),(7380,7.5),(7420,6.5),(7500,5.8),(7600,5.3),(7700,5.2),(7800,5.1),(7900,4.9),(8000,4.7),(8100,4.7),(8200,4.8),(8250,4.95),(8300,4.8),(8400,4.8),(8430,4.85),(8500,4.6),(8600,4.4),(8700,4.3),(8800,4.2),(8850,4.0),(8900,4.0),(9000,3.9),(9020,4.3),(9040,3.9),(9100,3.85),(9200,3.75),(9300,3.65),(9400,3.5),(9500,3.55),(9600,3.45),(9700,3.35),(9800,3.3),(9820,3.8),(9840,3.3),(9900,3.25),(9950,3.2),(10000,3.1)]

BLUE = [BLUE_1, BLUE_2, BLUE_3, BLUE_4, BLUE_5, BLUE_6, BLUE_7, BLUE_8]
RED = [RED_1, RED_2, RED_3, RED_4, RED_5, RED_6, RED_7, RED_8]

# ---------------- layout geometry ----------------
W, H = 1200, 1866
COL_PX = [(57, 563), (661, 1167)]
ROW_PX = [(32, 408), (498, 876), (966, 1343), (1432, 1810)]
FONT = "DejaVu Sans"
BLUE_C = "#1f77b4"
RED_C = "#d62728"

fig = go.Figure()
annotations = []
layout_axes = {}

for i in range(8):
    r, c = divmod(i, 2)
    n = i + 1
    xs = "" if n == 1 else str(n)
    x0, x1 = COL_PX[c]
    t0, b0 = ROW_PX[r]
    xdom = [x0 / W, x1 / W]
    ydom = [1 - b0 / H, 1 - t0 / H]

    bx, by = zip(*BLUE[i])
    rx, ry = zip(*RED[i])
    fig.add_trace(go.Scatter(x=list(bx), y=list(by), mode="lines",
                             line=dict(color=BLUE_C, width=1.7),
                             xaxis="x" + xs, yaxis="y" + xs, showlegend=False))
    fig.add_trace(go.Scatter(x=list(rx), y=list(ry), mode="lines",
                             line=dict(color=RED_C, width=1.8),
                             xaxis="x" + xs, yaxis="y" + xs, showlegend=False))

    common = dict(showline=True, linecolor="#000000", linewidth=1, mirror=True,
                  ticks="outside", ticklen=5, tickwidth=1, tickcolor="#000000",
                  showgrid=False, zeroline=False,
                  tickfont=dict(family=FONT, size=13.5, color="#000000"))
    layout_axes["xaxis" + xs] = dict(domain=xdom, range=[3600, 10000],
                                     tickmode="array", tickvals=X_TICKS,
                                     ticktext=[str(v) for v in X_TICKS],
                                     anchor="y" + xs, **common)
    layout_axes["yaxis" + xs] = dict(domain=ydom, range=[0, Y_MAX[i]],
                                     tick0=0, dtick=Y_DTICK[i],
                                     anchor="x" + xs, **common)

    xc = (x0 + x1) / 2 / W
    # panel title
    annotations.append(dict(text=TITLES[i], xref="paper", yref="paper",
                            x=xc, y=1 - (t0 - 14) / H, xanchor="center", yanchor="middle",
                            showarrow=False, font=dict(family=FONT, size=16.5, color="#000000")))
    # x label
    annotations.append(dict(text="Observed wavelength [Å]", xref="paper", yref="paper",
                            x=xc, y=1 - (b0 + 39) / H, xanchor="center", yanchor="middle",
                            showarrow=False, font=dict(family=FONT, size=13.5, color="#000000")))
    # y label
    annotations.append(dict(text="Flux [arbitrary units]", xref="paper", yref="paper",
                            x=(x0 - 40) / W, y=1 - (t0 + b0) / 2 / H, xanchor="center",
                            yanchor="middle", textangle=-90, showarrow=False,
                            font=dict(family=FONT, size=13.5, color="#000000")))
    # redshift / extinction label
    annotations.append(dict(text=f"z={REDSHIFTS[i]}, A<sub>V</sub>={AV_VALUES[i]}",
                            xref="x" + xs + " domain", yref="y" + xs + " domain",
                            x=0.72, y=0.915, xanchor="left", yanchor="middle",
                            showarrow=False, font=dict(family=FONT, size=14, color="#000000")))

fig.update_layout(width=W, height=H, margin=dict(l=0, r=0, t=0, b=0),
                  paper_bgcolor="white", plot_bgcolor="white",
                  annotations=annotations, showlegend=False, **layout_axes)

fig.write_html("out.html")
